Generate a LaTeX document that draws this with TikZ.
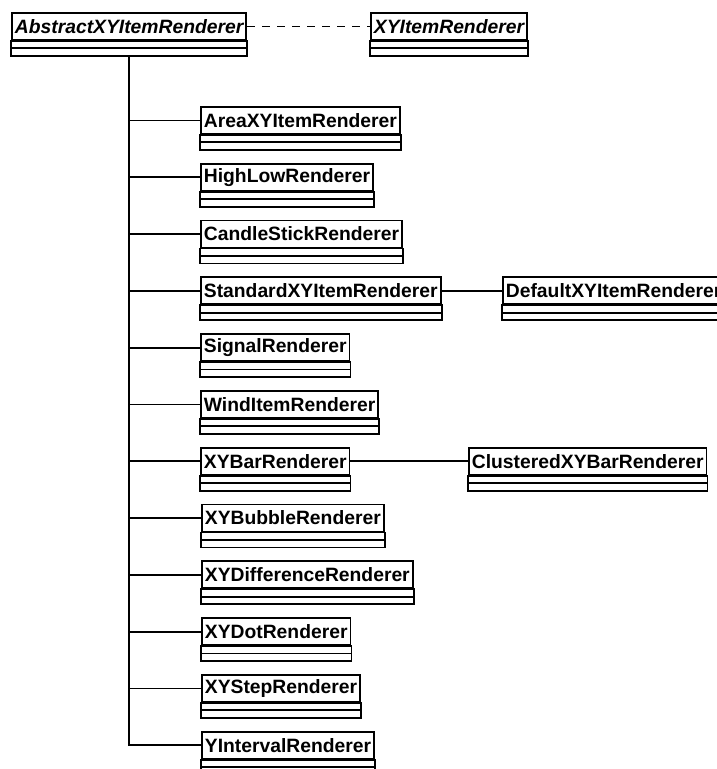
\documentclass[tikz,border=0pt]{standalone}
\usepackage{fontspec}
\setmainfont{Liberation Sans}
\usetikzlibrary{positioning}

% one class box: style, name, left, top, title
\newcommand{\classbox}[5][cls]{%
  \node[#1,anchor=north west] (#2) at (#3,#4) {#5};
  \draw[frame] (#2.south west) rectangle ([yshift=-7.5pt]#2.south east);
  \draw[frame] ([yshift=-7.5pt]#2.south west) rectangle ([yshift=-15pt]#2.south east);
}

\begin{document}
\begin{tikzpicture}[x=1pt,y=-1pt,
      frame/.style={line width=1.8pt},
      cls/.style={draw,frame,fill=white,minimum height=27pt,
        inner xsep=3pt,inner ysep=0pt,
        font=\fontsize{19.3}{22}\selectfont\bfseries},
      abstractcls/.style={cls,font=\fontsize{19.3}{22}\selectfont\bfseries\itshape},
      wire/.style={line width=1.8pt}
    ]
    \useasboundingbox (0,0) rectangle (716,769);

    \classbox[abstractcls]{abs}{11}{12}{AbstractXYItemRenderer}
    \classbox[abstractcls]{xyir}{370}{12}{XYItemRenderer}
    \coordinate (absb) at ([yshift=-15pt]abs.south);

    \classbox{area}{200}{106}{AreaXYItemRenderer}
    \classbox{highlow}{200}{162.8}{HighLowRenderer}
    \classbox{candle}{200}{219.6}{CandleStickRenderer}
    \classbox{std}{200}{276.4}{StandardXYItemRenderer}
    \classbox{signal}{200}{333.2}{SignalRenderer}
    \classbox{wind}{200}{390}{WindItemRenderer}
    \classbox{bar}{200}{446.8}{XYBarRenderer}
    \classbox{bubble}{201}{503.6}{XYBubbleRenderer}
    \classbox{diff}{201}{560.4}{XYDifferenceRenderer}
    \classbox{dot}{201}{617.2}{XYDotRenderer}
    \classbox{xystep}{201}{674}{XYStepRenderer}
    \classbox{yint}{201}{730.8}{YIntervalRenderer}

    \classbox{dflt}{502}{276.4}{DefaultXYItemRenderer}
    \classbox{clust}{468}{446.8}{ClusteredXYBarRenderer}

    % realisation and inheritance lines
    \draw[wire,dash pattern=on 8pt off 7pt] (abs.east) -- (xyir.west);
    \draw[wire] (absb) |- (yint.west);
    \foreach \c in {area,highlow,candle,std,signal,wind,bar,bubble,diff,dot,xystep}
      \draw[wire] (absb |- \c.west) -- (\c.west);
    \draw[wire] (std.east) -- (dflt.west);
    \draw[wire] (bar.east) -- (clust.west);
\end{tikzpicture}
\end{document}
